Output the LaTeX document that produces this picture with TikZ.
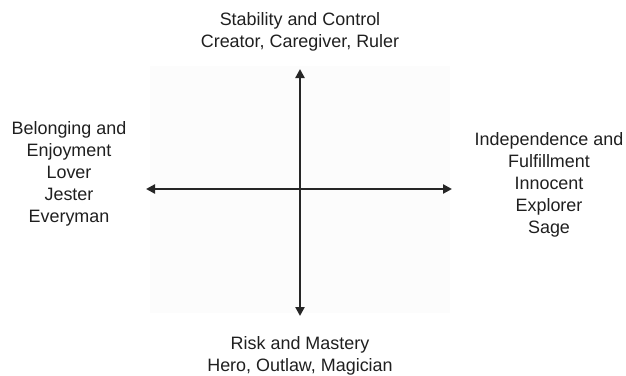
\documentclass[tikz,border=0pt]{standalone}
\usepackage{fontspec}
\setmainfont{Liberation Sans}
\usetikzlibrary{arrows.meta}
\begin{document}
\begin{tikzpicture}[x=1bp,y=-1bp,
  axis/.style={line width=2.8bp,color=black!85,{Triangle[length=9bp,width=9bp]}-{Triangle[length=9bp,width=9bp]}},
  lbl/.style={font=\fontsize{18}{22}\selectfont,align=center,text=black!88,inner sep=0pt}]
\useasboundingbox (0,0) rectangle (626,375);
\fill[black!1] (150,66) rectangle (450,313);
\coordinate (T) at (300,69);
\coordinate (B) at (300,316);
\coordinate (L) at (146,189);
\coordinate (R) at (452,189);
\draw[axis] (B) -- (T);
\draw[axis] (L) -- (R);
\node[lbl] (top) at (300,32) {Stability and Control\\Creator, Caregiver, Ruler};
\node[lbl] (bot) at (300,356) {Risk and Mastery\\Hero, Outlaw, Magician};
\node[lbl] (left) at (69,174) {Belonging and\\Enjoyment\\Lover\\Jester\\Everyman};
\node[lbl] (right) at (549,185) {Independence and\\Fulfillment\\Innocent\\Explorer\\Sage};
\end{tikzpicture}
\end{document}
